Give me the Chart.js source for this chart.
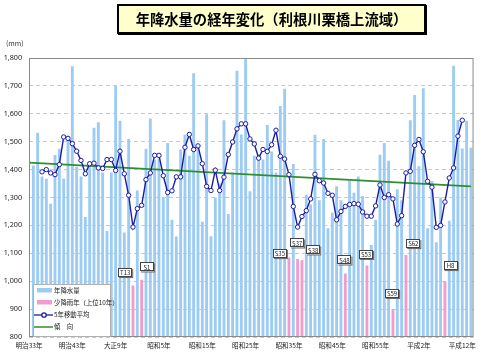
<!DOCTYPE html>
<html lang="ja">
<head>
<meta charset="utf-8">
<script src="https://cdn.jsdelivr.net/npm/chart.js@4.4.0/dist/chart.umd.min.js"></script>
<style>
  html, body { margin: 0; padding: 0; background: #fff; }
  #wrap { position: relative; width: 481px; height: 359px; overflow: hidden; }
  #title {
    position: absolute; left: 117px; top: 4px; width: 305px; height: 26px;
    background: #ffffcc; border: 2px solid #000; box-shadow: 1px 1px 0 #000;
    font: bold 14.3px "Noto Sans CJK JP"; line-height: 26px; text-align: center; color: #000;
  }
  #unit { position: absolute; left: 6px; top: 38px; font: 7px "Noto Sans CJK JP"; color: #333; }
  canvas { position: absolute; left: 0; top: 0; }
</style>
</head>
<body>
<div id="wrap">
  <canvas id="rainChart" width="481" height="359"></canvas>
  <div id="title">年降水量の経年変化（利根川栗橋上流域）</div>
  <div id="unit">(mm)</div>
</div>
<script>
// 年 (1901〜2002)
const years = [
  1901, 1902, 1903, 1904, 1905, 1906, 1907, 1908, 1909, 1910,
  1911, 1912, 1913, 1914, 1915, 1916, 1917, 1918, 1919, 1920,
  1921, 1922, 1923, 1924, 1925, 1926, 1927, 1928, 1929, 1930,
  1931, 1932, 1933, 1934, 1935, 1936, 1937, 1938, 1939, 1940,
  1941, 1942, 1943, 1944, 1945, 1946, 1947, 1948, 1949, 1950,
  1951, 1952, 1953, 1954, 1955, 1956, 1957, 1958, 1959, 1960,
  1961, 1962, 1963, 1964, 1965, 1966, 1967, 1968, 1969, 1970,
  1971, 1972, 1973, 1974, 1975, 1976, 1977, 1978, 1979, 1980,
  1981, 1982, 1983, 1984, 1985, 1986, 1987, 1988, 1989, 1990,
  1991, 1992, 1993, 1994, 1995, 1996, 1997, 1998, 1999, 2000,
  2001, 2002
];

// 年降水量 (mm)
const rainfall = [
  1415, 1532, 1375, 1367, 1278, 1452, 1475, 1368, 1520, 1770,
  1410, 1375, 1230, 1415, 1550, 1570, 1390, 1180, 1390, 1700,
  1575, 1175, 1510, 985, 1325, 1005, 1475, 1583, 1435, 1440,
  1300, 1495, 1220, 1160, 1472, 1525, 1450, 1745, 1478, 1213,
  1598, 1161, 1300, 1350, 1577, 1241, 1390, 1754, 1526, 1800,
  1322, 1450, 1455, 1436, 1560, 1465, 1390, 1628, 1690, 1085,
  1420, 1080, 1075, 1310, 1275, 1525, 1290, 1510, 1190, 1245,
  1340, 1290, 1028, 1365, 1317, 1375, 1305, 1056, 1130, 1220,
  1453, 1495, 1432, 900, 1330, 1290, 1094, 1577, 1667, 1412,
  1692, 1190, 1359, 1140, 1300, 1000, 1217, 1772, 1578, 1476,
  1575, 1478
];

// 少降雨年（上位10年）
const lowYears = [1924, 1926, 1960, 1962, 1963, 1973, 1978, 1984, 1987, 1996];
const lowNames = ["T13", "S1", "S35", "S37", "S38", "S48", "S53", "S59", "S62", "H8"];

// 5年移動平均 (1903〜2000)
const maYears = years.slice(2, years.length - 2);
const movingAvg = [
  1392, 1400, 1388, 1382, 1418, 1517, 1512, 1493, 1466, 1433,
  1385, 1421, 1423, 1406, 1404, 1436, 1436, 1397, 1466, 1385,
  1308, 1194, 1260, 1272, 1364, 1388, 1451, 1451, 1378, 1318,
  1324, 1374, 1374, 1480, 1526, 1472, 1485, 1421, 1340, 1325,
  1398, 1325, 1373, 1454, 1499, 1546, 1564, 1564, 1510, 1492,
  1441, 1472, 1465, 1489, 1541, 1448, 1438, 1382, 1268, 1194,
  1232, 1253, 1295, 1383, 1360, 1352, 1315, 1308, 1220, 1250,
  1268, 1275, 1278, 1276, 1248, 1233, 1233, 1270, 1345, 1300,
  1310, 1295, 1205, 1235, 1388, 1394, 1487, 1508, 1464, 1358,
  1337, 1193, 1200, 1284, 1370, 1406, 1520, 1577
];

// 傾向
const trendYears = [1900, 2002];
const trendValues = [1425, 1340];

// 横軸の目盛
const tickYears = [1900, 1910, 1920, 1930, 1940, 1950, 1960, 1970, 1980, 1990, 2000];
const tickNames = ["明治33年", "明治43年", "大正9年", "昭和5年", "昭和15年", "昭和25年",
                   "昭和35年", "昭和45年", "昭和55年", "平成2年", "平成12年"];

const BLUE = "#9ccbf3";
const PINK = "#f39ccb";
const NAVY = "#1c1ca3";
const GREEN = "#2f8f2f";
const JP = '"Noto Sans CJK JP", "Noto Sans", sans-serif';

// ラベル枠の中心 (年, mm)
const tagPlace = [
  [1922.2, 1031], [1927.2, 1051], [1957.9, 1099], [1961.9, 1137], [1965.6, 1112],
  [1972.8, 1076], [1977.8, 1096], [1983.8, 956], [1988.7, 1135], [1997.3, 1056]
];

// 枠線・凡例・少降雨年ラベル
const extras = {
  id: "extras",
  afterDatasetsDraw(chart) {
    const { ctx, chartArea: a, scales } = chart;
    ctx.save();
    ctx.strokeStyle = "#8a8a8a";
    ctx.lineWidth = 1;
    ctx.strokeRect(a.left + 0.5, a.top + 0.5, a.width - 1, a.height - 1);

    // 凡例
    const lx = a.left + 4, ly = a.bottom - 53;
    ctx.fillStyle = "#fff";
    ctx.fillRect(lx, ly, 77, 52);
    ctx.strokeStyle = "#b0b0b0";
    ctx.strokeRect(lx + 0.5, ly + 0.5, 77, 52);
    ctx.fillStyle = BLUE;
    ctx.fillRect(lx + 4, ly + 4, 15, 4.5);
    ctx.fillStyle = PINK;
    ctx.fillRect(lx + 4, ly + 16, 15, 4.5);
    ctx.strokeStyle = NAVY;
    ctx.lineWidth = 1.3;
    ctx.beginPath(); ctx.moveTo(lx + 1, ly + 31); ctx.lineTo(lx + 20, ly + 31); ctx.stroke();
    ctx.fillStyle = "#fff";
    ctx.beginPath(); ctx.arc(lx + 11, ly + 31, 2.2, 0, Math.PI * 2); ctx.fill(); ctx.stroke();
    ctx.strokeStyle = GREEN;
    ctx.lineWidth = 1.5;
    ctx.beginPath(); ctx.moveTo(lx + 1, ly + 43); ctx.lineTo(lx + 20, ly + 43); ctx.stroke();
    ctx.fillStyle = "#222";
    ctx.font = "6.4px " + JP;
    ctx.textBaseline = "middle";
    ctx.textAlign = "left";
    ctx.fillText("年降水量", lx + 21, ly + 6.5);
    ctx.fillText("少降雨年（上位10年）", lx + 21, ly + 18.5);
    ctx.fillText("5年移動平均", lx + 21, ly + 31);
    ctx.fillText("傾　向", lx + 21, ly + 43);

    // 少降雨年ラベル
    ctx.font = "6px " + JP;
    ctx.textAlign = "center";
    lowNames.forEach((name, i) => {
      const cx = scales.x.getPixelForValue(tagPlace[i][0]);
      const cy = scales.y.getPixelForValue(tagPlace[i][1]);
      const w = 14, h = 9;
      ctx.fillStyle = "#666";
      ctx.fillRect(cx - w / 2 + 1, cy - h / 2 + 1, w, h);
      ctx.fillStyle = "#fff";
      ctx.fillRect(cx - w / 2, cy - h / 2, w, h);
      ctx.strokeStyle = "#444";
      ctx.lineWidth = 1;
      ctx.strokeRect(Math.round(cx - w / 2) + 0.5, Math.round(cy - h / 2) + 0.5, w - 1, h - 1);
      ctx.fillStyle = "#222";
      ctx.fillText(name, cx, cy + 0.5);
    });
    ctx.restore();
  }
};

new Chart(document.getElementById("rainChart"), {
  type: "bar",
  data: {
    datasets: [
      {
        type: "line",
        label: "5年移動平均",
        data: maYears.map((yr, i) => ({ x: yr, y: movingAvg[i] })),
        borderColor: NAVY,
        borderWidth: 1.4,
        pointRadius: 2.2,
        pointBorderWidth: 1,
        pointBackgroundColor: "#fff",
        pointBorderColor: NAVY,
        tension: 0,
        order: 0
      },
      {
        type: "line",
        label: "傾 向",
        data: trendYears.map((yr, i) => ({ x: yr, y: trendValues[i] })),
        borderColor: GREEN,
        borderWidth: 1.6,
        pointRadius: 0,
        order: 1
      },
      {
        label: "年降水量",
        data: years.map((yr, i) => ({ x: yr, y: rainfall[i] })),
        backgroundColor: years.map((yr) => (lowYears.includes(yr) ? PINK : BLUE)),
        barPercentage: 0.66,
        categoryPercentage: 1,
        order: 2
      }
    ]
  },
  options: {
    responsive: false,
    animation: false,
    layout: { padding: { left: 0, right: 7, top: 58, bottom: 0 } },
    plugins: { legend: { display: false }, tooltip: { enabled: false } },
    scales: {
      x: {
        type: "linear",
        min: 1900,
        max: 2002.6,
        offset: false,
        grid: { display: false, drawTicks: false },
        border: { display: false },
        ticks: {
          stepSize: 10,
          includeBounds: false,
          autoSkip: false,
          maxRotation: 0,
          padding: 5,
          color: "#222",
          font: { family: JP, size: 6.6 },
          callback: (v) => {
            const i = tickYears.indexOf(v);
            return i >= 0 ? tickNames[i] : "";
          }
        },
        afterFit: (s) => { s.height = 22; }
      },
      y: {
        min: 800,
        max: 1800,
        grid: { color: "#c9c9c9", drawTicks: false },
        border: { display: false, dash: [4, 3] },
        ticks: {
          stepSize: 100,
          padding: 7,
          color: "#222",
          font: { family: '"Noto Sans", sans-serif', size: 7.2 }
        },
        afterFit: (s) => { s.width = 29; }
      }
    }
  },
  plugins: [extras]
});
</script>
</body>
</html>
